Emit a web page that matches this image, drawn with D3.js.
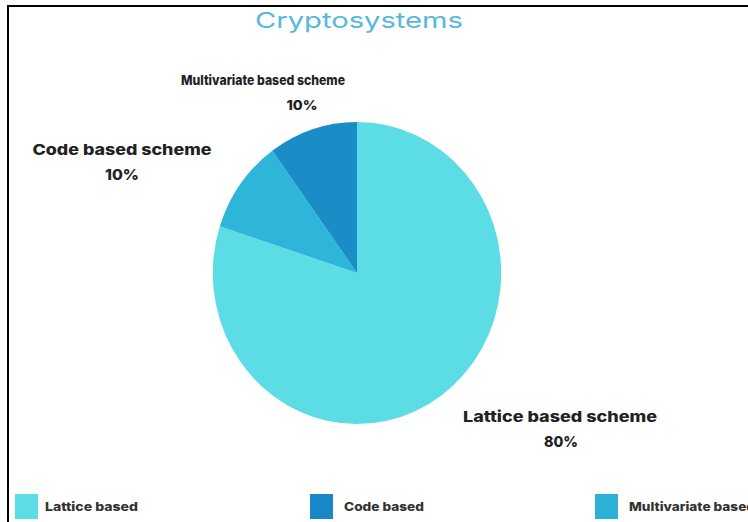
<!DOCTYPE html>
<html>
<head>
<meta charset="utf-8">
<script src="https://cdn.jsdelivr.net/npm/d3@7"></script>
<style>
  body { margin: 0; background: #fff; }
  svg { display: block; }
  text { font-family: Inter, "Open Sans", sans-serif; }
</style>
</head>
<body>
<div id="chart"></div>
<script>
// data
var categories = ['Lattice based scheme', 'Code based scheme', 'Multivariate based scheme'];
var values = [80, 10, 10];
var sliceColors = ['#5cdde6', '#2db6d9', '#1b8dc6'];
var legendLabels = ['Lattice based', 'Code based', 'Multivariate based'];
var legendColors = ['#5cdde6', '#1a87c8', '#2db1d7'];

var svgWidth = 748;
var svgHeight = 522;

var svg = d3.select('#chart').append('svg')
    .attr('width', svgWidth)
    .attr('height', svgHeight);

// frame (runs off the right and bottom edges)
svg.append('rect')
    .attr('x', 8)
    .attr('y', 6)
    .attr('width', 900)
    .attr('height', 700)
    .attr('fill', 'none')
    .attr('stroke', '#000')
    .attr('stroke-width', 2);

// poppins isn't around, so stretch the text to the original widths
svg.append('text')
    .attr('x', 359)
    .attr('y', 28)
    .attr('text-anchor', 'middle')
    .attr('textLength', 208)
    .attr('lengthAdjust', 'spacingAndGlyphs')
    .style('font-size', '22px')
    .style('fill', '#58b8dc')
    .text('Cryptosystems');

var radius = 151;
var pieG = svg.append('g')
    .attr('transform', 'translate(357, 273) scale(0.955, 1)');

var pie = d3.pie().sort(null).value(d => d.value);
var arc = d3.arc().innerRadius(0).outerRadius(radius);

var slices = pie(categories.map((c, i) => ({ name: c, value: values[i] })));

pieG.selectAll('path')
    .data(slices)
    .enter()
    .append('path')
    .attr('d', arc)
    .attr('fill', (d, i) => sliceColors[i]);

// slice labels, placed outside like the original
var labelPos = [
    { x: 560, y: 422, px: 561, size: 15, w: 194 },
    { x: 122, y: 155, px: 122, size: 15, w: 179 },
    { x: 263, y: 85, px: 302, size: 13.5, w: 164 }
];

slices.forEach((s, i) => {
    var p = labelPos[i];
    svg.append('text')
        .attr('x', p.x)
        .attr('y', p.y)
        .attr('text-anchor', 'middle')
        .attr('textLength', p.w)
        .attr('lengthAdjust', 'spacingAndGlyphs')
        .style('font-size', p.size + 'px')
        .style('font-weight', 800)
        .style('fill', '#222')
        .text(s.data.name);
    svg.append('text')
        .attr('x', p.px)
        .attr('y', p.y + 25)
        .attr('text-anchor', 'middle')
        .attr('textLength', p.size == 15 ? 34 : 31)
        .attr('lengthAdjust', 'spacingAndGlyphs')
        .style('font-size', p.size + 'px')
        .style('font-weight', 800)
        .style('fill', '#222')
        .text(s.data.value + '%');
});

// legend
var legendX = [15, 310, 595];
var legendTextW = [93, 80, 126];
var legendG = svg.selectAll('.legend')
    .data(legendLabels)
    .enter()
    .append('g')
    .attr('class', 'legend')
    .attr('transform', (d, i) => `translate(${legendX[i]}, 494)`);

legendG.append('rect')
    .attr('width', 23)
    .attr('height', 25)
    .attr('fill', (d, i) => legendColors[i]);

legendG.append('text')
    .attr('x', (d, i) => i == 0 ? 30 : 34)
    .attr('y', 17)
    .attr('textLength', (d, i) => legendTextW[i])
    .attr('lengthAdjust', 'spacingAndGlyphs')
    .style('font-size', '12px')
    .style('font-weight', 800)
    .style('fill', '#333')
    .text(d => d);
</script>
</body>
</html>
